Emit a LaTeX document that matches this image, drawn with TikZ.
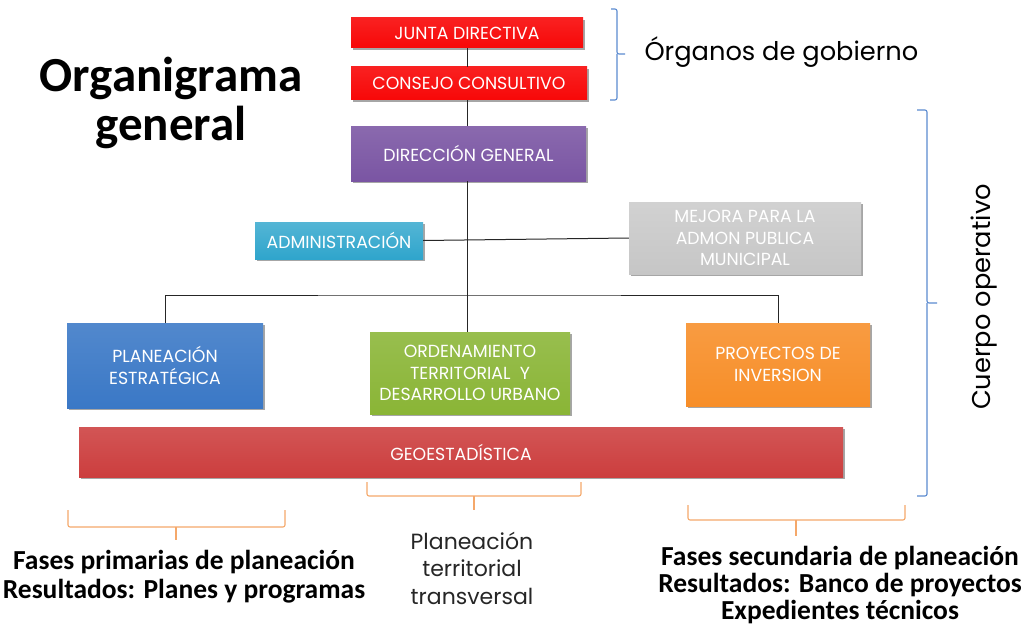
\documentclass[tikz,border=0pt]{standalone}
\usepackage{fontspec}
\setmainfont{Poppins}
\newfontfamily\boxfont{Poppins}[FakeStretch=0.99]
\newfontfamily\boldfont{Carlito}
\usetikzlibrary{shadows}
\definecolor{jred}{HTML}{F80808}
\definecolor{purp}{HTML}{7A55A3}
\definecolor{aqua}{HTML}{2FA5CC}
\definecolor{grayb}{HTML}{C6C6C6}
\definecolor{blueb}{HTML}{3A78C6}
\definecolor{greenb}{HTML}{8AB536}
\definecolor{orangeb}{HTML}{F78E28}
\definecolor{geored}{HTML}{CC3E3E}
\definecolor{braceblue}{HTML}{5B8BD0}
\definecolor{braceorange}{HTML}{F5A86A}
\tikzset{
  box/.style={rectangle, inner sep=0pt, text=white, align=center,
    font=\boxfont\fontsize{17.5}{21.5}\selectfont,
    drop shadow={shadow xshift=1.5pt, shadow yshift=-2pt, opacity=0.35, fill=black}},
  conn/.style={draw=black!85, line width=1pt},
  bblue/.style={draw=braceblue, line width=1.1pt, rounded corners=2pt},
  borange/.style={draw=braceorange, line width=1.1pt, rounded corners=2pt},
}
\begin{document}
\begin{tikzpicture}[x=1pt,y=-1pt]
\useasboundingbox[fill=white] (0,0) rectangle (1029,634);
% nodes
\node[box, top color=jred!90!white, bottom color=jred, minimum width=232, minimum height=30] (junta) at (467,33) {JUNTA DIRECTIVA};
\node[box, top color=jred!90!white, bottom color=jred, minimum width=236, minimum height=33] (consejo) at (469,83.5) {CONSEJO CONSULTIVO};
\node[box, top color=purp!88!white, bottom color=purp, minimum width=235, minimum height=55] (direccion) at (468.5,153.5) {DIRECCIÓN GENERAL};
\node[box, top color=aqua!82!white, bottom color=aqua, minimum width=168, minimum height=37] (admin) at (339,240.5) {ADMINISTRACIÓN};
\node[box, top color=grayb!80!white, bottom color=grayb, minimum width=232, minimum height=72] (mejora) at (745,238) {MEJORA PARA LA\\ADMON PUBLICA\\MUNICIPAL};
\node[box, top color=blueb!88!white, bottom color=blueb, minimum width=196, minimum height=85] (plan) at (165,365.5) {PLANEACIÓN\\ESTRATÉGICA};
\node[box, top color=greenb!88!white, bottom color=greenb, minimum width=200, minimum height=82] (orden) at (470,373) {ORDENAMIENTO\\TERRITORIAL~~Y\\DESARROLLO URBANO};
\node[box, top color=orangeb!88!white, bottom color=orangeb, minimum width=184, minimum height=83] (proy) at (778,364.5) {PROYECTOS DE\\INVERSION};
\node[box, top color=geored!88!white, bottom color=geored, minimum width=764, minimum height=50] (geo) at (461,452) {GEOESTADÍSTICA};
% connectors
\coordinate (bus) at (467,295);
\draw[conn] (junta.south) -- (junta.south |- consejo.north);
\draw[conn] (junta.south |- consejo.south) -- (junta.south |- direccion.north);
\draw[conn] (junta.south |- direccion.south) -- (junta.south |- orden.north);
\draw[conn] (admin.east) -- (mejora.west);
\draw[conn] (plan.north) |- (bus) -| (proy.north);
% title
\node[font=\boldfont\bfseries\fontsize{49}{49}\selectfont, align=center] (title) at (171,103) {Organigrama\\general};
% blue braces
\draw[bblue] (611,9) -- (617,9) -- (617,54) -- (625,54);
\draw[bblue] (617,54) -- (617,100) -- (610,100);
\node[font=\fontsize{25.7}{30}\selectfont, anchor=west] (organos) at (641,52) {Órganos de gobierno};
\draw[bblue] (917,110) -- (927,110) -- (927,303) -- (937,303);
\draw[bblue] (927,303) -- (927,496) -- (917,496);
\node[font=\fontsize{25.7}{30}\selectfont, rotate=90] (cuerpo) at (984,297) {Cuerpo operativo};
% orange braces
\draw[borange] (68,510) -- (68,527) -- (285,527) -- (285,510);
\draw[borange] (176,527) -- (176,540);
\draw[borange] (367,482) -- (367,496) -- (581,496) -- (581,482);
\draw[borange] (474,496) -- (474,510);
\draw[borange] (688,505) -- (688,520) -- (905,520) -- (905,505);
\draw[borange] (796,520) -- (796,536);
% bottom texts
\node[font=\boldfont\bfseries\fontsize{27.5}{29}\selectfont, align=center] (fp) at (184,577) {Fases primarias de planeación\\Resultados: Planes y programas};
\node[font=\fontsize{22}{27.5}\selectfont, align=center, text=black!85] (pt) at (472,568) {Planeación\\territorial\\transversal};
\node[font=\boldfont\bfseries\fontsize{27.5}{27}\selectfont, align=center] (fs) at (840,585) {Fases secundaria de planeación\\Resultados: Banco de proyectos\\Expedientes técnicos};
\end{tikzpicture}
\end{document}
